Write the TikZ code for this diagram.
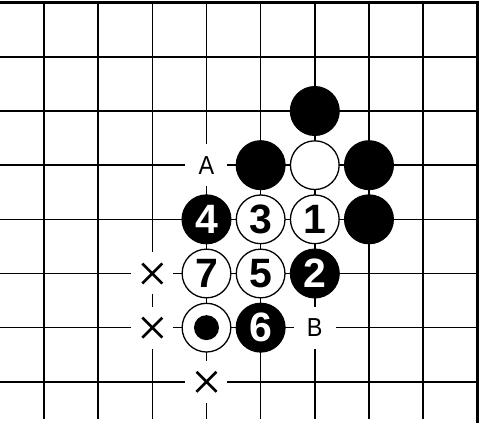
\documentclass[tikz,border=0pt]{standalone}
\usepackage{fontspec}
\setmainfont{Liberation Sans}
\newfontfamily\lblfont[FakeStretch=0.9]{Liberation Sans}
\begin{document}
\begin{tikzpicture}[
  grid/.style={line width=1.6pt, black},
  edge/.style={line width=3pt, black, line join=miter},
  numfont/.style={font=\fontsize{41pt}{41pt}\selectfont\bfseries},
  bstone/.style={circle, fill=black, draw=black, line width=1pt, minimum size=49pt, inner sep=0pt, text=white, numfont},
  wstone/.style={circle, fill=white, draw=black, line width=1.3pt, minimum size=48.7pt, inner sep=0pt, text=black, numfont},
  lbl/.style={fill=white, minimum size=42pt, inner sep=0pt, font=\lblfont\fontsize{26pt}{26pt}\selectfont},
  dotmark/.style={circle, fill=black, minimum size=25pt, inner sep=0pt},
  xmark/.style={fill=white, minimum size=42pt, inner sep=0pt,
    path picture={\draw[line width=2.6pt]
      ([shift={(-10pt,-10pt)}]path picture bounding box.center) -- ([shift={(10pt,10pt)}]path picture bounding box.center)
      ([shift={(-10pt,10pt)}]path picture bounding box.center) -- ([shift={(10pt,-10pt)}]path picture bounding box.center);}}
]
\useasboundingbox (0,0) rectangle (480pt,423pt);
\begin{scope}[shift={(44pt,420.3pt)}, x=54.16pt, y=-54.16pt]
  % grid
  \foreach \i in {0,...,7} \draw[grid] (\i,0) -- (\i,7.687);
  \foreach \j in {1,...,7} \draw[grid] (-0.82,\j) -- (8,\j);
  \draw[edge] (-0.82,0) -- (8,0) -- (8,7.8);
  % stones
  \node[bstone] (b52) at (5,2) {};
  \node[bstone] (b43) at (4,3) {};
  \node[wstone] (w53) at (5,3) {};
  \node[bstone] (b63) at (6,3) {};
  \node[bstone] (m4) at (3,4) {4};
  \node[wstone] (m3) at (4,4) {3};
  \node[wstone] (m1) at (5,4) {1};
  \node[bstone] (b64) at (6,4) {};
  \node[wstone] (m7) at (3,5) {7};
  \node[wstone] (m5) at (4,5) {5};
  \node[bstone] (m2) at (5,5) {2};
  \node[wstone] (wm) at (3,6) {};
  \node[dotmark] (dot) at (wm.center) {};
  \node[bstone] (m6) at (4,6) {6};
  % labels
  \node[lbl] (lA) at (3,3) {A};
  \node[lbl] (lB) at (5,6) {B};
  \node[xmark] (x1) at (2,5) {};
  \node[xmark] (x2) at (2,6) {};
  \node[xmark] (x3) at (3,7) {};
\end{scope}
\end{tikzpicture}
\end{document}
